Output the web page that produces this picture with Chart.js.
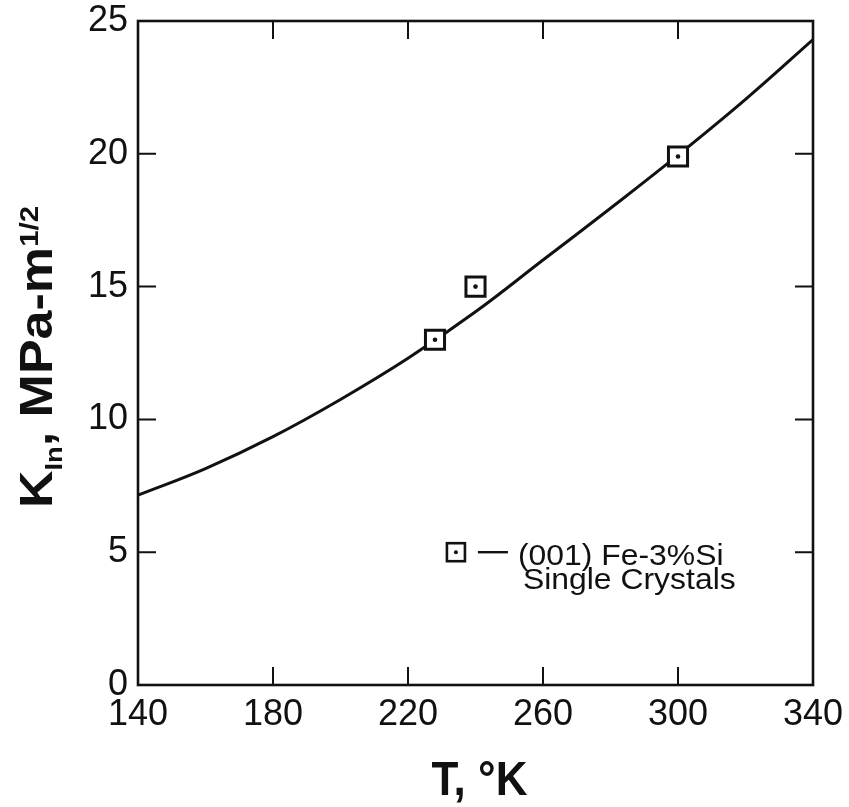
<!DOCTYPE html>
<html><head><meta charset="utf-8">
<style>html,body{margin:0;padding:0;background:#fff}canvas{display:block}</style>
<script src="https://cdn.jsdelivr.net/npm/chart.js@4/dist/chart.umd.min.js"></script>
</head><body>
<canvas id="c" width="849" height="807"></canvas>
<script>
// ---- data ----
const curveT = [140, 160, 180, 200, 220, 240, 260, 280, 300, 320, 340];
const curveK = [7.15, 8.15, 9.35, 10.75, 12.3, 14.05, 16.0, 17.95, 19.95, 22.05, 24.3];
const pointsT = [228, 240, 300];
const pointsK = [13.0, 15.0, 19.9];
const xTickLabels = [140, 180, 220, 260, 300, 340];
const yTickLabels = [0, 5, 10, 15, 20, 25];
const legendLine1 = '(001) Fe-3%Si';
const legendLine2 = 'Single Crystals';
const legendAnchor = {x: 234.2, y: 5.0};

const FAM = '"Liberation Sans", Arial, Helvetica, sans-serif';

const framePlugin = {
  id: 'frame',
  beforeDatasetsDraw(chart) {
    const ctx = chart.ctx, a = chart.chartArea, xs = chart.scales.x, ys = chart.scales.y;
    ctx.save();
    ctx.strokeStyle = '#111';
    ctx.lineWidth = 2.6;
    ctx.strokeRect(a.left, a.top, a.right - a.left, a.bottom - a.top);
    ctx.lineWidth = 2;
    const tl = 18;
    xTickLabels.slice(1, -1).forEach(v => {
      const px = xs.getPixelForValue(v);
      ctx.beginPath();
      ctx.moveTo(px, a.bottom); ctx.lineTo(px, a.bottom - tl);
      ctx.moveTo(px, a.top); ctx.lineTo(px, a.top + tl);
      ctx.stroke();
    });
    yTickLabels.slice(1, -1).forEach(v => {
      const py = ys.getPixelForValue(v);
      ctx.beginPath();
      ctx.moveTo(a.left, py); ctx.lineTo(a.left + tl, py);
      ctx.moveTo(a.right, py); ctx.lineTo(a.right - tl, py);
      ctx.stroke();
    });
    ctx.restore();
  }
};

const textPlugin = {
  id: 'texts',
  afterDraw(chart) {
    const ctx = chart.ctx, a = chart.chartArea, xs = chart.scales.x, ys = chart.scales.y;
    ctx.save();
    ctx.fillStyle = '#111';
    ctx.strokeStyle = '#111';
    // x title
    ctx.save();
    ctx.font = 'bold 44px ' + FAM;
    ctx.textAlign = 'center';
    ctx.textBaseline = 'alphabetic';
    ctx.translate((a.left + a.right) / 2 + 4, 795);
    ctx.scale(1, 1.1);
    ctx.fillText('T, \u00B0K', 0, 0);
    ctx.restore();

    // y title with subscript and superscript
    ctx.save();
    const segs = [
      {t: 'K', f: 'bold 46px ' + FAM, dy: 0},
      {t: 'In', f: 'bold 24px ' + FAM, dy: 10},
      {t: ', MPa-m', f: 'bold 46px ' + FAM, dy: 0},
      {t: '1/2', f: 'bold 26px ' + FAM, dy: -14}
    ];
    let W = 0;
    segs.forEach(s => { ctx.font = s.f; s.w = ctx.measureText(s.t).width; W += s.w; });
    const startY = 508, endY = 206;
    const sx = (startY - endY) / W;
    ctx.translate(52, startY);
    ctx.rotate(-Math.PI / 2);
    ctx.scale(sx, 1);
    ctx.textAlign = 'left';
    ctx.textBaseline = 'alphabetic';
    let x = 0;
    segs.forEach(s => { ctx.font = s.f; ctx.fillText(s.t, x, s.dy); x += s.w; });
    ctx.restore();

    // legend
    const lx = xs.getPixelForValue(legendAnchor.x), ly = ys.getPixelForValue(legendAnchor.y);
    ctx.lineWidth = 2.6;
    ctx.strokeRect(lx - 9, ly - 9, 18, 18);
    ctx.beginPath(); ctx.arc(lx, ly, 2, 0, Math.PI * 2); ctx.fill();
    ctx.beginPath(); ctx.moveTo(lx + 22, ly); ctx.lineTo(lx + 52, ly); ctx.lineWidth = 2.4; ctx.stroke();
    ctx.font = '29px ' + FAM;
    ctx.textAlign = 'left';
    ctx.textBaseline = 'alphabetic';
    ctx.save(); ctx.translate(lx + 62, ly + 13); ctx.scale(1.1, 1); ctx.fillText(legendLine1, 0, 0); ctx.restore();
    ctx.save(); ctx.translate(lx + 67, ly + 37); ctx.scale(1.1, 1); ctx.fillText(legendLine2, 0, 0); ctx.restore();
    ctx.restore();
  }
};

new Chart(document.getElementById('c'), {
  type: 'scatter',
  data: {
    datasets: [
      {
        label: 'curve',
        data: curveT.map((t, i) => ({x: t, y: curveK[i]})),
        showLine: true, borderColor: '#111', borderWidth: 3, pointRadius: 0,
        tension: 0.4, fill: false, order: 3
      },
      {
        label: 'squares',
        data: pointsT.map((t, i) => ({x: t, y: pointsK[i]})),
        pointStyle: 'rect', pointRadius: 13.5, backgroundColor: '#fff',
        borderColor: '#111', borderWidth: 3, showLine: false, order: 2
      },
      {
        label: 'dots',
        data: pointsT.map((t, i) => ({x: t, y: pointsK[i]})),
        pointStyle: 'circle', pointRadius: 2.3, backgroundColor: '#111',
        borderWidth: 0, showLine: false, order: 1
      }
    ]
  },
  options: {
    responsive: false, animation: false, devicePixelRatio: 1,
    layout: {padding: {top: 21, right: 36, left: 0, bottom: 0}},
    plugins: {legend: {display: false}, tooltip: {enabled: false}},
    scales: {
      x: {
        type: 'linear', min: 140, max: 340,
        afterBuildTicks: s => { s.ticks = xTickLabels.map(v => ({value: v})); },
        afterFit: s => { s.height = 122; s.paddingLeft = 0; s.paddingRight = 0; },
        grid: {display: false, drawTicks: false}, border: {display: false},
        ticks: {font: {family: FAM, size: 36}, color: '#111', padding: 8, maxRotation: 0, autoSkip: false}
      },
      y: {
        type: 'linear', min: 0, max: 25,
        afterBuildTicks: s => { s.ticks = yTickLabels.map(v => ({value: v})); },
        afterFit: s => { s.width = 138; s.paddingTop = 0; s.paddingBottom = 0; },
        grid: {display: false, drawTicks: false}, border: {display: false},
        ticks: {font: {family: FAM, size: 36}, color: '#111', padding: 10, autoSkip: false}
      }
    }
  },
  plugins: [framePlugin, textPlugin]
});
</script>
</body></html>
